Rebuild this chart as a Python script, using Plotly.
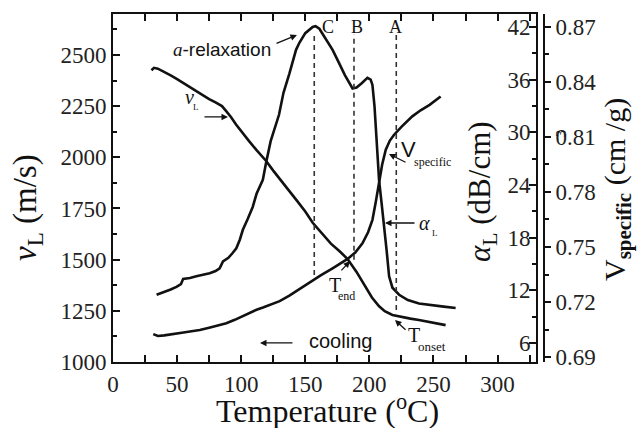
import plotly.graph_objects as go

# ---------------- data ----------------
# longitudinal sound velocity v_L (m/s) on cooling
temp_vl = [30, 32, 35, 40, 45, 50, 55, 60, 65, 70, 75, 80, 85, 88, 92, 96, 101, 106,
           112, 119.5, 125, 131, 137.6, 143, 150, 155.8, 162, 170, 177, 183, 190, 197,
           202, 207.6, 212, 218, 225, 232, 238.7, 245, 252, 259.5]
vl = [2425, 2437, 2433, 2418, 2400, 2382, 2362, 2342, 2322, 2303, 2284, 2268, 2250,
      2228, 2197, 2160, 2117, 2080, 2035, 1982, 1935, 1885, 1835, 1792, 1735, 1680,
      1635, 1578, 1540, 1503, 1440, 1368, 1315, 1272, 1248, 1230, 1220, 1212, 1205,
      1198, 1190, 1180]

# ultrasonic attenuation alpha_L (dB/cm)
temp_alpha = [34, 40, 45, 49.5, 53, 54.7, 60, 65, 70, 75.4, 80, 83.2, 85.8, 90, 93,
              96.2, 99, 101.3, 105, 109, 112, 116.9, 119.5, 123, 129.5, 133, 137.6,
              142.8, 145.4, 150, 155.8, 158, 161, 165, 171.3, 176, 181, 186.9, 190,
              194, 198.5, 201, 202.4, 204, 205, 206.5, 207.6, 209.5, 211.5, 213.5,
              215.4, 218, 223.2, 230, 238.7, 248, 258, 267.3]
alpha = [11.5, 11.8, 12.1, 12.4, 12.7, 13.3, 13.4, 13.6, 13.75, 13.95, 14.2, 14.5,
         15.3, 15.7, 16.2, 16.8, 17.8, 18.9, 20.1, 21.5, 23.0, 24.6, 26.6, 29.0, 32.0,
         34.5, 36.7, 39.4, 40.2, 41.3, 42.0, 42.1, 41.8, 40.9, 39.4, 38.0, 36.5, 35.0,
         35.1, 35.6, 36.2, 36.0, 35.4, 33.0, 30.6, 27.0, 24.5, 22.0, 19.6, 16.5, 13.6,
         12.3, 11.5, 10.9, 10.5, 10.3, 10.15, 10.0]

# specific volume V_specific (cm^3/g)
temp_vsp = [31.4, 35, 40, 45, 49.5, 55, 60, 67.7, 75, 80, 88.4, 95, 100, 106.5, 112,
            117, 122, 130, 137.6, 145, 150, 155.8, 162, 171.3, 177, 183, 189, 194.6,
            199, 202.4, 205, 207.6, 210, 212.8, 216, 219.3, 225, 233.5, 240, 247, 255.6]
vsp = [0.7025, 0.7015, 0.7018, 0.7022, 0.7029, 0.7034, 0.7039, 0.7047, 0.7060, 0.7068,
       0.7084, 0.7103, 0.7120, 0.7139, 0.7158, 0.7170, 0.7184, 0.7205, 0.7235, 0.7268,
       0.7292, 0.7320, 0.7345, 0.7384, 0.7410, 0.7435, 0.7470, 0.7520, 0.7580, 0.7648,
       0.7745, 0.7855, 0.7950, 0.8030, 0.8080, 0.8112, 0.8155, 0.8212, 0.8245, 0.8275,
       0.8320]

# characteristic temperatures marked with dashed lines
marker_names = ["C", "B", "A"]
marker_temps = [157, 188, 221]
marker_bottoms = [1425, 1500, 1254]

# ---------------- style ----------------
SERIF = "Liberation Serif"
SANS = "Liberation Sans"
INK = "#111111"

fig = go.Figure()
curve = dict(color=INK, width=2.6)
fig.add_trace(go.Scatter(x=temp_vl, y=vl, mode="lines", line=curve, yaxis="y"))
fig.add_trace(go.Scatter(x=temp_alpha, y=alpha, mode="lines", line=curve, yaxis="y2"))
fig.add_trace(go.Scatter(x=temp_vsp, y=vsp, mode="lines", line=curve, yaxis="y3"))

for t, vb in zip(marker_temps, marker_bottoms):
    fig.add_shape(type="line", xref="x", yref="y", x0=t, x1=t, y0=vb, y1=2600,
                  line=dict(color="#333333", width=1.6, dash="5px,4px"))

tickfont = dict(family=SERIF, size=23, color="#222222")
base_axis = dict(showline=True, linecolor=INK, linewidth=2, showgrid=False,
                 zeroline=False, ticks="inside", tickcolor=INK, tickwidth=1.5,
                 ticklen=7, tickfont=tickfont)


def minor(step, ticks="inside"):
    return dict(dtick=step, ticks=ticks, ticklen=4, tickwidth=1.5,
                tickcolor=INK, showgrid=False)


fig.update_layout(
    width=637, height=428,
    margin=dict(l=113, r=93, t=14, b=66),
    paper_bgcolor="white", plot_bgcolor="white",
    showlegend=False,
    xaxis=dict(domain=[0, 423 / 431], range=[0, 330], tick0=0, dtick=50,
               mirror="allticks", minor=minor(25), **base_axis),
    yaxis=dict(range=[1000, 2700], tick0=1000, dtick=250, minor=minor(125),
               **base_axis),
    yaxis2=dict(overlaying="y", side="right", anchor="x", range=[3.84, 43.48],
                tick0=0, dtick=6, ticklabelposition="inside", minor=minor(3),
                **base_axis),
    yaxis3=dict(overlaying="y", side="right", anchor="free", position=1,
                range=[0.6873, 0.877], tick0=0.69, dtick=0.03, tickformat=".2f",
                minor=minor(0.015, "outside"),
                **{**base_axis, "ticks": "outside", "ticklen": 6}),
)


def label(text, t, v, size, family=SERIF, **kw):
    fig.add_annotation(x=t, y=v, xref="x", yref="y", text=text, showarrow=False,
                       font=dict(family=family, size=size, color=INK),
                       xanchor="center", yanchor="middle", **kw)


def pointer(t_tail, v_tail, t_head, v_head):
    fig.add_annotation(x=t_head, y=v_head, ax=t_tail, ay=v_tail,
                       xref="x", yref="y", axref="x", ayref="y", text="",
                       showarrow=True, arrowhead=2, arrowsize=1, arrowwidth=1.3,
                       arrowcolor=INK, standoff=0)


# dashed-line letters
for name, t in zip(marker_names, [167.7, 190.4, 220.0]):
    label(name, t, 2636, 18)

# curve labels
label('<i><span style="font-family:Liberation Serif">a</span></i>-relaxation',
      85, 2529, 19, SANS)
pointer(126.4, 2553, 143.5, 2597)

label("<i>v</i>", 59.3, 2295, 20)
label("L", 64.8, 2246, 9)
pointer(70.2, 2197, 89.7, 2197)

label("V", 230.9, 2036, 22, SANS)
label("specific", 249.6, 1978, 12)
pointer(229.4, 1972, 215.3, 2016)

label("<i>α</i>", 243.4, 1679, 20)
label("L", 251.2, 1632, 9)
pointer(236.4, 1679, 212.2, 1679)

label("T", 173.2, 1374, 20)
label("end", 182.3, 1322, 12)
pointer(177.1, 1440, 184.9, 1493)

label("T", 234.8, 1132, 20)
label("onset", 248.9, 1078, 13)
pointer(229.4, 1151, 220.0, 1205)

label("cooling", 177.1, 1103, 20, SANS)
pointer(141.2, 1093, 114.7, 1093)


# axis titles (paper coordinates)
def title(text, px, py, size, angle=0):
    fig.add_annotation(x=(px - 113) / 431, y=(362 - py) / 348, xref="paper",
                       yref="paper", text=text, showarrow=False, textangle=angle,
                       font=dict(family=SERIF, size=size, color=INK),
                       xanchor="center", yanchor="middle")


title("Temperature (<sup>o</sup>C)", 327, 409, 32)
title("<i>v</i><sub>L</sub> (m/s)", 27, 208, 33, -90)
title("<i>α</i><sub>L</sub> (dB/cm)", 482, 192, 31, -90)
title("V<sub><b>specific</b></sub> (cm /g)", 617, 190, 30, -90)
title("3", 561, 134, 14, -90)

fig.write_html("out.html")
